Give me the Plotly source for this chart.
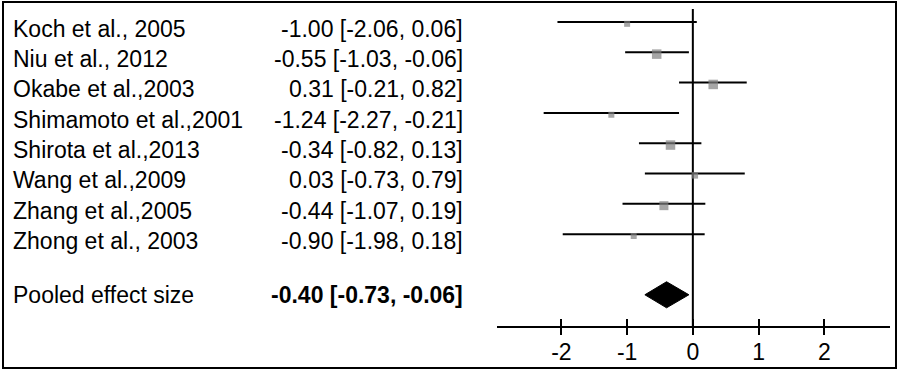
import plotly.graph_objects as go

studies = ["Koch et al., 2005", "Niu et al., 2012", "Okabe et al.,2003",
           "Shimamoto et al.,2001", "Shirota et al.,2013", "Wang et al.,2009",
           "Zhang et al.,2005", "Zhong et al., 2003"]
effect = [-1.00, -0.55, 0.31, -1.24, -0.34, 0.03, -0.44, -0.90]
lower = [-2.06, -1.03, -0.21, -2.27, -0.82, -0.73, -1.07, -1.98]
upper = [0.06, -0.06, 0.82, -0.21, 0.13, 0.79, 0.19, 0.18]
weight = [6, 9.5, 9.5, 6, 9.5, 6.5, 9, 6]  # relative marker size

pooled_label = "Pooled effect size"
pooled = -0.40
pooled_lower = -0.73
pooled_upper = -0.06

tick_vals = [-2, -1, 0, 1, 2]
tick_text = ["-2", "-1", "0", "1", "2"]

FONT = "Liberation Sans, Arial, sans-serif"
FS = 23

rows = list(range(len(studies)))
pooled_row = len(studies) + 1
axis_row = pooled_row + 1.03
top_row = -0.726

fig = go.Figure()

# zero reference line
fig.add_trace(go.Scatter(x=[0, 0], y=[-0.43, axis_row], mode="lines",
                         line=dict(color="black", width=2), hoverinfo="skip"))

# confidence interval segments
cx, cy = [], []
for r, lo, hi in zip(rows, lower, upper):
    cx += [lo, hi, None]
    cy += [r, r, None]
fig.add_trace(go.Scatter(x=cx, y=cy, mode="lines",
                         line=dict(color="black", width=2), hoverinfo="skip"))

# point estimates
fig.add_trace(go.Scatter(x=effect, y=[r + 0.06 for r in rows], mode="markers",
                         marker=dict(symbol="square", color="#808080",
                                     size=weight, line=dict(width=0))))

# pooled diamond
h = 0.43
fig.add_trace(go.Scatter(
    x=[pooled_lower, pooled, pooled_upper, pooled, pooled_lower],
    y=[pooled_row, pooled_row - h, pooled_row, pooled_row + h, pooled_row],
    mode="lines", fill="toself", fillcolor="black",
    line=dict(color="black", width=1), hoverinfo="skip"))

# overlay axis for the upper half of crossing ticks
fig.add_trace(go.Scatter(x=[0], y=[pooled_row], xaxis="x2", mode="markers",
                         marker=dict(opacity=0), hoverinfo="skip"))

ann = []
for r, s, e, lo, hi in zip(rows, studies, effect, lower, upper):
    ann.append(dict(x=11 / 900, xref="paper", y=r + 0.22, yref="y", text=s,
                    showarrow=False, xanchor="left", yanchor="middle",
                    font=dict(family=FONT, size=FS, color="black")))
    ann.append(dict(x=465 / 900, xref="paper", y=r + 0.22, yref="y",
                    text=f"{e:.2f} [{lo:.2f}, {hi:.2f}]",
                    showarrow=False, xanchor="right", yanchor="middle",
                    font=dict(family=FONT, size=FS, color="black")))
ann.append(dict(x=11 / 900, xref="paper", y=pooled_row, yref="y", text=pooled_label,
                showarrow=False, xanchor="left", yanchor="middle",
                font=dict(family=FONT, size=FS, color="black")))
ann.append(dict(x=465 / 900, xref="paper", y=pooled_row, yref="y",
                text=f"<b>{pooled:.2f} [{pooled_lower:.2f}, {pooled_upper:.2f}]</b>",
                showarrow=False, xanchor="right", yanchor="middle",
                font=dict(family=FONT, size=FS, color="black")))

xdom = [497 / 900, 890 / 900]
xrange = [-2.98, 3.0]

fig.update_layout(
    width=900, height=371,
    margin=dict(l=0, r=0, t=0, b=0),
    paper_bgcolor="white", plot_bgcolor="white",
    showlegend=False,
    font=dict(family=FONT, size=FS, color="black"),
    annotations=ann,
    xaxis=dict(domain=xdom, range=xrange, showgrid=False, zeroline=False,
               showline=True, linecolor="black", linewidth=2,
               tickmode="array", tickvals=tick_vals, ticktext=tick_text,
               ticks="outside", ticklen=7, tickwidth=2, tickcolor="black",
               ticklabelstandoff=-3,
               tickfont=dict(family=FONT, size=FS, color="black"),
               automargin=False, fixedrange=True),
    xaxis2=dict(domain=xdom, range=xrange, overlaying="x", anchor="y", side="bottom",
                showgrid=False, zeroline=False, showline=False,
                tickmode="array", tickvals=tick_vals, ticks="inside", ticklen=7,
                tickwidth=2, tickcolor="black", showticklabels=False,
                automargin=False),
    yaxis=dict(domain=[45 / 371, 1], range=[axis_row, top_row], visible=False,
               automargin=False, fixedrange=True),
    shapes=[dict(type="rect", xref="paper", yref="paper",
                 x0=3 / 900, x1=896 / 900, y0=3 / 371, y1=1 - 2 / 371,
                 line=dict(color="black", width=2), fillcolor="rgba(0,0,0,0)")],
)

fig.write_html("out.html", config={"displayModeBar": False},
               post_script="document.body.style.margin='0';document.body.style.overflow='hidden';")
